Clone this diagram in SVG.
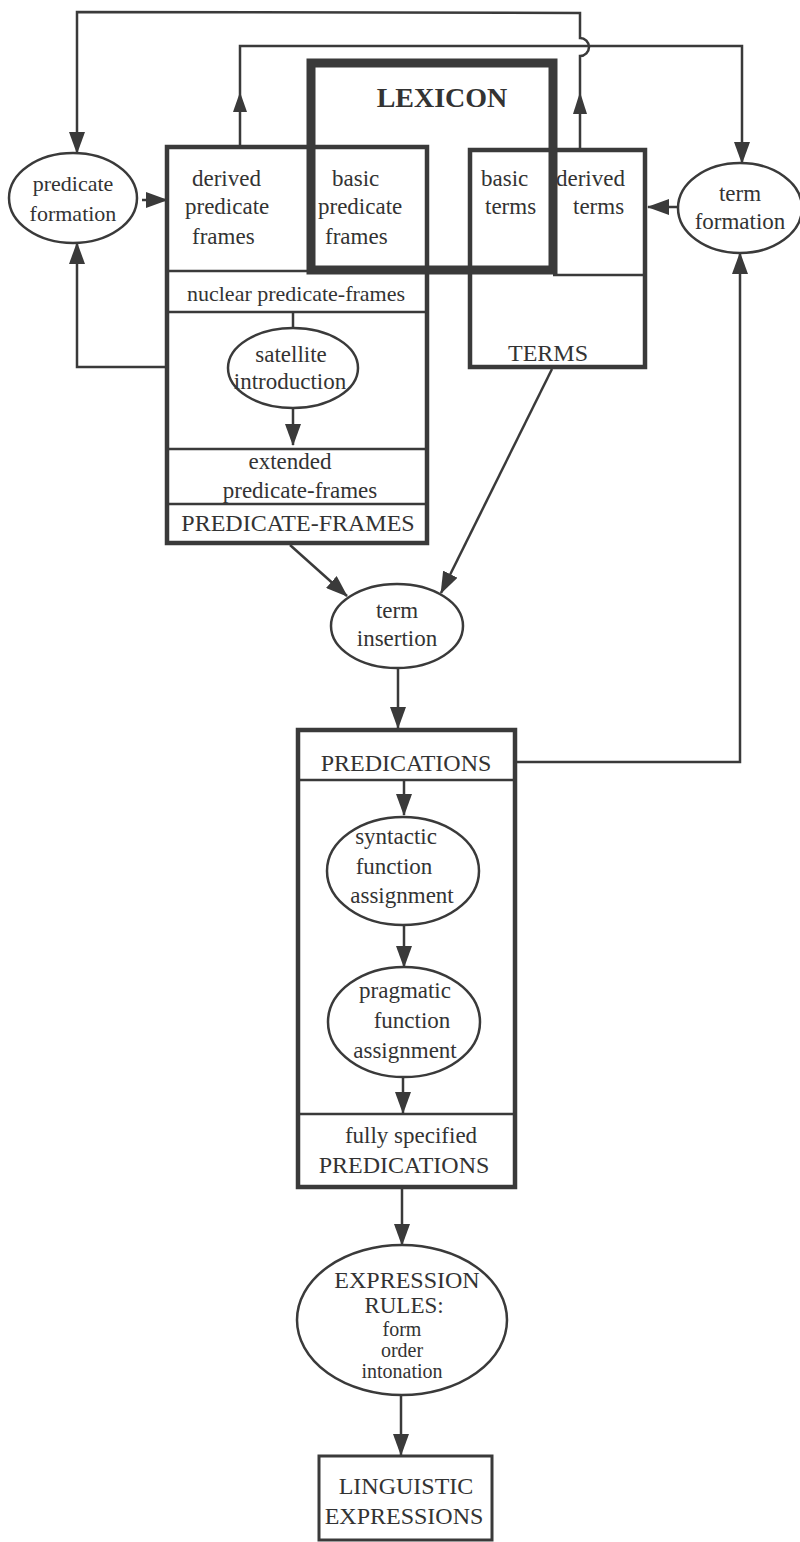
<svg xmlns="http://www.w3.org/2000/svg" width="800" height="1542" viewBox="0 0 800 1542">
<style>
text{font-family:"Liberation Serif","Times New Roman",serif;font-size:23px;fill:#333;text-anchor:middle}
.l{text-anchor:start}
.cap{font-size:24px}
.sm{font-size:20px}
.box{fill:none;stroke:#3a3a3a;stroke-width:4.5}
.thin{fill:none;stroke:#3a3a3a;stroke-width:2.5}
.ell{fill:#fff;stroke:#3a3a3a;stroke-width:2.5}
.c{fill:none;stroke:#3a3a3a;stroke-width:2.5}
.ah{fill:#3a3a3a}
</style>
<defs>
<marker id="a" markerUnits="userSpaceOnUse" markerWidth="22" markerHeight="16" viewBox="0 0 22 16" refX="21" refY="8" orient="auto">
<path d="M0,0 L22,8 L0,16 Z" fill="#3a3a3a"/>
</marker>
</defs>
<rect width="800" height="1542" fill="#fff"/>

<g id="connectors">
<path class="c" d="M580,150 L580,56 A9,9 0 0 0 580,38 L580,13 L77,12 L77,153" marker-end="url(#a)"/>
<polygon class="ah" points="580,92 573,114 587,114"/>
<path class="c" d="M240,147 L240,46 L742,46 L742,163" marker-end="url(#a)"/>
<polygon class="ah" points="240,92 233,112 247,112"/>
<path class="c" d="M142,200 L150,200"/>
<path class="c" d="M152,200 L167,200" marker-end="url(#a)"/>
<path class="c" d="M167,367 L77,367 L77,243" marker-end="url(#a)"/>
<path class="c" d="M678,207 L648,207" marker-end="url(#a)"/>
<path class="c" d="M515,762 L740,762 L740,253" marker-end="url(#a)"/>
<path class="c" d="M293,312 L293,328"/>
<path class="c" d="M293,408 L293,445" marker-end="url(#a)"/>
<path class="c" d="M290,545 L347,596" marker-end="url(#a)"/>
<path class="c" d="M552,369 L441,593" marker-end="url(#a)"/>
<path class="c" d="M398,668 L398,728" marker-end="url(#a)"/>
<path class="c" d="M404,780 L404,815" marker-end="url(#a)"/>
<path class="c" d="M404,925 L404,967" marker-end="url(#a)"/>
<path class="c" d="M403,1077 L403,1113" marker-end="url(#a)"/>
<path class="c" d="M402,1189 L402,1245" marker-end="url(#a)"/>
<path class="c" d="M401,1395 L401,1455" marker-end="url(#a)"/>
</g>

<g id="predicate-formation">
<ellipse class="ell" cx="73" cy="198" rx="64" ry="45"/>
<text x="73" y="191" style="font-size:22px">predicate</text>
<text x="73" y="221" style="font-size:22px">formation</text>
</g>

<g id="predicate-frames">
<rect class="box" x="167" y="147" width="260" height="396"/>
<line class="thin" x1="167" y1="271" x2="427" y2="271"/>
<line class="thin" x1="167" y1="312" x2="427" y2="312"/>
<line class="thin" x1="167" y1="449" x2="427" y2="449"/>
<line class="thin" x1="167" y1="504" x2="427" y2="504"/>
<text class="l" x="192" y="186">derived</text>
<text class="l" x="185" y="214">predicate</text>
<text class="l" x="192" y="244">frames</text>
<text class="l" x="332" y="186">basic</text>
<text class="l" x="318" y="214">predicate</text>
<text class="l" x="325" y="244">frames</text>
<text x="296" y="301" style="font-size:22px">nuclear predicate-frames</text>
<text x="290" y="469">extended</text>
<text x="300" y="498">predicate-frames</text>
<text class="cap" x="298" y="531">PREDICATE-FRAMES</text>
</g>

<g id="satellite-introduction">
<ellipse class="ell" cx="293" cy="368" rx="65" ry="40"/>
<text x="291" y="362">satellite</text>
<text x="290" y="389">introduction</text>
</g>

<g id="terms">
<rect class="box" x="470" y="150" width="175" height="217"/>
<line class="thin" x1="553" y1="275" x2="645" y2="275"/>
<text class="l" x="481" y="186">basic</text>
<text class="l" x="485" y="214">terms</text>
<text class="l" x="556" y="186">derived</text>
<text class="l" x="573" y="214">terms</text>
<text class="cap" x="548" y="361">TERMS</text>
</g>

<g id="lexicon">
<rect x="311" y="63" width="242" height="207" fill="none" stroke="#3a3a3a" stroke-width="9"/>
<text x="442" y="107" style="font-size:28px;font-weight:bold">LEXICON</text>
</g>

<g id="term-formation">
<ellipse class="ell" cx="740" cy="208" rx="62" ry="45"/>
<text x="740" y="201">term</text>
<text x="740" y="229">formation</text>
</g>

<g id="term-insertion">
<ellipse class="ell" cx="397" cy="626" rx="66" ry="42"/>
<text x="397" y="618">term</text>
<text x="397" y="646">insertion</text>
</g>

<g id="predications">
<rect class="box" x="298" y="730" width="217" height="457"/>
<line class="thin" x1="298" y1="780" x2="515" y2="780"/>
<line class="thin" x1="298" y1="1114" x2="515" y2="1114"/>
<text class="cap" x="406" y="771">PREDICATIONS</text>
<text x="411" y="1143">fully specified</text>
<text class="cap" x="404" y="1173">PREDICATIONS</text>
</g>

<g id="syntactic-function-assignment">
<ellipse class="ell" cx="403" cy="871" rx="76" ry="54"/>
<text x="396" y="844">syntactic</text>
<text x="394" y="874">function</text>
<text x="402" y="903">assignment</text>
</g>

<g id="pragmatic-function-assignment">
<ellipse class="ell" cx="404" cy="1022" rx="76" ry="55"/>
<text x="405" y="998">pragmatic</text>
<text x="412" y="1028">function</text>
<text x="405" y="1058">assignment</text>
</g>

<g id="expression-rules">
<ellipse class="ell" cx="402" cy="1320" rx="105" ry="75"/>
<text class="cap" x="407" y="1288">EXPRESSION</text>
<text x="404" y="1313">RULES:</text>
<text class="sm" x="402" y="1336">form</text>
<text class="sm" x="402" y="1357">order</text>
<text class="sm" x="402" y="1378">intonation</text>
</g>

<g id="linguistic-expressions">
<rect class="thin" x="319" y="1456" width="173" height="84" style="stroke-width:3"/>
<text class="cap" x="406" y="1494">LINGUISTIC</text>
<text class="cap" x="404" y="1524">EXPRESSIONS</text>
</g>
</svg>
